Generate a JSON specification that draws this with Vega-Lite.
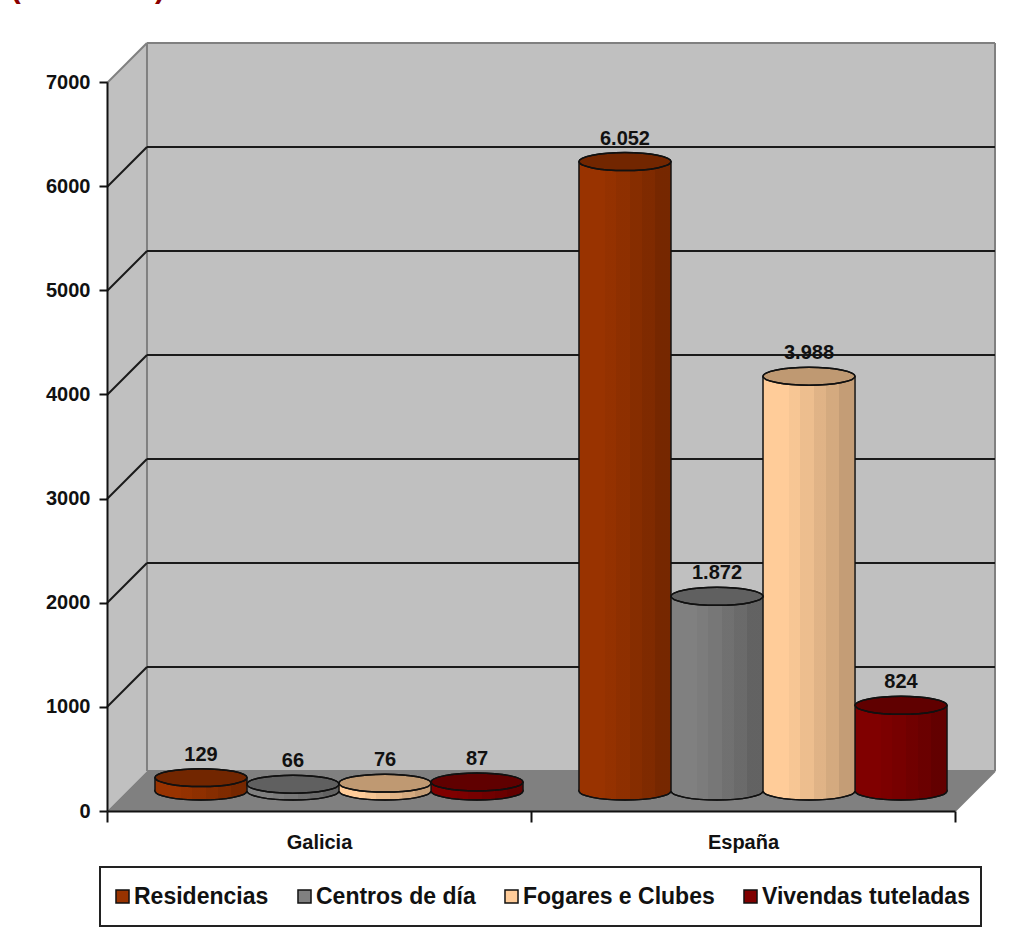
{
  "$schema": "https://vega.github.io/schema/vega-lite/v6.json",
  "width": 888,
  "height": 768,
  "autosize": {"type": "none"},
  "padding": {"left": 107, "top": 43, "right": 18, "bottom": 127},
  "background": "white",
  "config": {
    "view": {"stroke": null},
    "font": "Liberation Sans",
    "legend": {"strokeWidth": 2}
  },
  "datasets": {
    "centros": [
      {"ambito": "Galicia", "tipo": "Residencias", "valor": 129, "etiqueta": "129"},
      {"ambito": "Galicia", "tipo": "Centros de día", "valor": 66, "etiqueta": "66"},
      {"ambito": "Galicia", "tipo": "Fogares e Clubes", "valor": 76, "etiqueta": "76"},
      {"ambito": "Galicia", "tipo": "Vivendas tuteladas", "valor": 87, "etiqueta": "87"},
      {"ambito": "España", "tipo": "Residencias", "valor": 6052, "etiqueta": "6.052"},
      {"ambito": "España", "tipo": "Centros de día", "valor": 1872, "etiqueta": "1.872"},
      {"ambito": "España", "tipo": "Fogares e Clubes", "valor": 3988, "etiqueta": "3.988"},
      {"ambito": "España", "tipo": "Vivendas tuteladas", "valor": 824, "etiqueta": "824"}
    ],
    "paredeLateral": [
      {"x": 0, "y": 0, "y2": 7000},
      {"x": 0.0943, "y": 384, "y2": 7384}
    ],
    "chan": [
      {"x": 0, "y": 0, "y2": 0},
      {"x": 0.0943, "y": 0, "y2": 384},
      {"x": 2, "y": 0, "y2": 384},
      {"x": 2.0943, "y": 384, "y2": 384}
    ],
    "fondo": [{"x": 0.0943, "x2": 2.0943, "y": 384, "y2": 7384}],
    "bordos": [
      {"x": 0, "x2": 0.0943, "y": 7000, "y2": 7384},
      {"x": 0.0943, "x2": 2.0943, "y": 7384, "y2": 7384},
      {"x": 0.0943, "x2": 0.0943, "y": 384, "y2": 7384},
      {"x": 2.0943, "x2": 2.0943, "y": 384, "y2": 7384},
      {"x": 0.0943, "x2": 2.0943, "y": 384, "y2": 384},
      {"x": 2, "x2": 2.0943, "y": 0, "y2": 384}
    ],
    "grella": [
      {"x": 0, "x2": 0.0943, "y": 1000, "y2": 1384},
      {"x": 0, "x2": 0.0943, "y": 2000, "y2": 2384},
      {"x": 0, "x2": 0.0943, "y": 3000, "y2": 3384},
      {"x": 0, "x2": 0.0943, "y": 4000, "y2": 4384},
      {"x": 0, "x2": 0.0943, "y": 5000, "y2": 5384},
      {"x": 0, "x2": 0.0943, "y": 6000, "y2": 6384},
      {"x": 0.0943, "x2": 2.0943, "y": 1384, "y2": 1384},
      {"x": 0.0943, "x2": 2.0943, "y": 2384, "y2": 2384},
      {"x": 0.0943, "x2": 2.0943, "y": 3384, "y2": 3384},
      {"x": 0.0943, "x2": 2.0943, "y": 4384, "y2": 4384},
      {"x": 0.0943, "x2": 2.0943, "y": 5384, "y2": 5384},
      {"x": 0.0943, "x2": 2.0943, "y": 6384, "y2": 6384}
    ],
    "titulo": [
      {"x": -0.215, "y": 7900, "t": "("},
      {"x": 0.125, "y": 7900, "t": ")"}
    ]
  },
  "resolve": {"scale": {"x": "independent", "y": "independent"}, "axis": {"x": "independent", "y": "independent"}},
  "layer": [
    {
      "data": {"name": "titulo"},
      "mark": {"type": "text", "fontSize": 30, "fontWeight": "bold", "color": "#8b0000", "baseline": "middle"},
      "encoding": {
        "x": {"field": "x", "type": "quantitative", "axis": null, "scale": {"domain": [0, 2.0943], "nice": false, "zero": false}},
        "y": {"field": "y", "type": "quantitative", "axis": null, "scale": {"domain": [0, 7384], "nice": false}},
        "text": {"field": "t"}
      }
    },
    {
      "data": {"name": "fondo"},
      "mark": {"type": "rect", "fill": "#c0c0c0"},
      "encoding": {
        "x": {"field": "x", "type": "quantitative", "axis": null, "scale": {"domain": [0, 2.0943], "nice": false, "zero": false}},
        "x2": {"field": "x2"},
        "y": {"field": "y", "type": "quantitative", "axis": null, "scale": {"domain": [0, 7384], "nice": false}},
        "y2": {"field": "y2"}
      }
    },
    {
      "data": {"name": "paredeLateral"},
      "mark": {"type": "area", "fill": "#c0c0c0"},
      "encoding": {
        "x": {"field": "x", "type": "quantitative", "axis": null, "scale": {"domain": [0, 2.0943], "nice": false, "zero": false}},
        "y": {"field": "y", "type": "quantitative", "axis": null, "scale": {"domain": [0, 7384], "nice": false}},
        "y2": {"field": "y2"}
      }
    },
    {
      "data": {"name": "chan"},
      "mark": {"type": "area", "fill": "#808080"},
      "encoding": {
        "x": {"field": "x", "type": "quantitative", "axis": null, "scale": {"domain": [0, 2.0943], "nice": false, "zero": false}},
        "y": {"field": "y", "type": "quantitative", "axis": null, "scale": {"domain": [0, 7384], "nice": false}},
        "y2": {"field": "y2"}
      }
    },
    {
      "data": {"name": "bordos"},
      "mark": {"type": "rule", "stroke": "#808080", "strokeWidth": 2},
      "encoding": {
        "x": {"field": "x", "type": "quantitative", "axis": null, "scale": {"domain": [0, 2.0943], "nice": false, "zero": false}},
        "x2": {"field": "x2"},
        "y": {"field": "y", "type": "quantitative", "axis": null, "scale": {"domain": [0, 7384], "nice": false}},
        "y2": {"field": "y2"}
      }
    },
    {
      "data": {"name": "grella"},
      "mark": {"type": "rule", "stroke": "#1a1a1a", "strokeWidth": 2},
      "encoding": {
        "x": {"field": "x", "type": "quantitative", "axis": null, "scale": {"domain": [0, 2.0943], "nice": false, "zero": false}},
        "x2": {"field": "x2"},
        "y": {"field": "y", "type": "quantitative", "axis": null, "scale": {"domain": [0, 7384], "nice": false}},
        "y2": {"field": "y2"}
      }
    },
    {
      "data": {"name": "centros"},
      "mark": {"type": "point", "opacity": 0},
      "encoding": {
        "x": {
          "field": "ambito", "type": "nominal", "title": null,
          "scale": {"domain": ["Galicia", "España"], "range": [0, 848], "paddingInner": 0, "paddingOuter": 0},
          "axis": {"orient": "bottom", "bandPosition": 0, "tickBand": "extent", "labelAngle": 0, "domainColor": "#111111", "domainWidth": 2, "tickColor": "#111111", "tickWidth": 2, "tickSize": 11, "labelFont": "Liberation Sans", "labelFontWeight": "bold", "labelFontSize": 20, "labelColor": "#111111", "labelPadding": 10, "zindex": 1}
        },
        "y": {
          "field": "valor", "type": "quantitative", "title": null,
          "scale": {"domain": [0, 7000], "range": [768, 39], "nice": false},
          "axis": {"orient": "left", "values": [0, 1000, 2000, 3000, 4000, 5000, 6000, 7000], "format": "d", "grid": false, "domainColor": "#111111", "domainWidth": 2, "tickColor": "#111111", "tickWidth": 2, "tickSize": 8, "labelFont": "Liberation Sans", "labelFontWeight": "bold", "labelFontSize": 20, "labelColor": "#111111", "labelPadding": 9, "zindex": 1}
        }
      }
    },
    {
      "data": {"name": "centros"},
      "mark": {"type": "point", "filled": true, "opacity": 1, "size": 8464, "stroke": "#111111", "strokeWidth": 1.5, "shape": "M-1,0C-1,-.1077,-.5523,-.195,0,-.195C.5523,-.195,1,-.1077,1,0C1,.1077,.5523,.195,0,.195C-.5523,.195,-1,.1077,-1,0Z"},
      "encoding": {
        "x": {"field": "ambito", "type": "nominal", "axis": null, "scale": {"domain": ["Galicia", "España"], "range": [20, 868], "paddingInner": 0, "paddingOuter": 0}},
        "xOffset": {"field": "tipo", "scale": {"domain": ["Residencias", "Centros de día", "Fogares e Clubes", "Vivendas tuteladas"], "paddingInner": 0, "paddingOuter": 0.304}},
        "y": {"datum": 0, "type": "quantitative", "axis": null, "scale": {"domain": [-192, 7192], "nice": false, "zero": false}},
        "color": {
          "field": "tipo", "type": "nominal",
          "scale": {"domain": ["Residencias", "Centros de día", "Fogares e Clubes", "Vivendas tuteladas"], "range": ["#993300", "#808080", "#ffcc99", "#800000"]},
          "legend": {"title": null, "orient": "none", "legendX": -7, "legendY": 824, "direction": "horizontal", "columns": 4, "columnPadding": 24, "padding": 11, "clipHeight": 37, "labelLimit": 400, "strokeColor": "#222222", "fillColor": "#ffffff", "symbolType": "square", "symbolSize": 170, "symbolStrokeColor": "#111111", "symbolStrokeWidth": 1.5, "labelFont": "Liberation Sans", "labelFontWeight": "bold", "labelFontSize": 23, "labelColor": "#111111", "labelOffset": 0}
        }
      }
    },
    {
      "data": {"name": "centros"},
      "mark": {
        "type": "point", "filled": true, "opacity": 1, "size": 8464, "stroke": "#111111", "strokeWidth": 1.5,
        "shape": "M-1,0C-1,-.1077,-.5523,-.195,0,-.195C.5523,-.195,1,-.1077,1,0C1,.1077,.5523,.195,0,.195C-.5523,.195,-1,.1077,-1,0Z",
        "fill": {
          "gradient": "linear", "x1": 0, "x2": 1, "y1": 0, "y2": 0,
          "stops": [
            {"offset": 0, "color": "rgba(0,0,0,0)"},
            {"offset": 0.28, "color": "rgba(0,0,0,0)"},
            {"offset": 0.28, "color": "rgba(0,0,0,0.03)"},
            {"offset": 0.4, "color": "rgba(0,0,0,0.03)"},
            {"offset": 0.4, "color": "rgba(0,0,0,0.07)"},
            {"offset": 0.55, "color": "rgba(0,0,0,0.07)"},
            {"offset": 0.55, "color": "rgba(0,0,0,0.12)"},
            {"offset": 0.69, "color": "rgba(0,0,0,0.12)"},
            {"offset": 0.69, "color": "rgba(0,0,0,0.17)"},
            {"offset": 0.83, "color": "rgba(0,0,0,0.17)"},
            {"offset": 0.83, "color": "rgba(0,0,0,0.23)"},
            {"offset": 1, "color": "rgba(0,0,0,0.23)"}
          ]
        }
      },
      "encoding": {
        "x": {"field": "ambito", "type": "nominal", "axis": null, "scale": {"domain": ["Galicia", "España"], "range": [20, 868], "paddingInner": 0, "paddingOuter": 0}},
        "xOffset": {"field": "tipo", "scale": {"domain": ["Residencias", "Centros de día", "Fogares e Clubes", "Vivendas tuteladas"], "paddingInner": 0, "paddingOuter": 0.304}},
        "y": {"datum": 0, "type": "quantitative", "axis": null, "scale": {"domain": [-192, 7192], "nice": false, "zero": false}}
      }
    },
    {
      "data": {"name": "centros"},
      "mark": {"type": "bar", "size": 93.5, "fill": "#111111"},
      "encoding": {
        "x": {"field": "ambito", "type": "nominal", "axis": null, "scale": {"domain": ["Galicia", "España"], "range": [20, 868], "paddingInner": 0, "paddingOuter": 0}},
        "xOffset": {"field": "tipo", "scale": {"domain": ["Residencias", "Centros de día", "Fogares e Clubes", "Vivendas tuteladas"], "paddingInner": 0, "paddingOuter": 0.304}},
        "y": {"field": "valor", "type": "quantitative", "stack": null, "axis": null, "scale": {"domain": [-192, 7192], "nice": false, "zero": false}}
      }
    },
    {
      "data": {"name": "centros"},
      "mark": {"type": "bar", "size": 90.5},
      "encoding": {
        "x": {"field": "ambito", "type": "nominal", "axis": null, "scale": {"domain": ["Galicia", "España"], "range": [20, 868], "paddingInner": 0, "paddingOuter": 0}},
        "xOffset": {"field": "tipo", "scale": {"domain": ["Residencias", "Centros de día", "Fogares e Clubes", "Vivendas tuteladas"], "paddingInner": 0, "paddingOuter": 0.304}},
        "y": {"field": "valor", "type": "quantitative", "stack": null, "axis": null, "scale": {"domain": [-192, 7192], "nice": false, "zero": false}},
        "color": {"field": "tipo", "type": "nominal", "legend": null, "scale": {"domain": ["Residencias", "Centros de día", "Fogares e Clubes", "Vivendas tuteladas"], "range": ["#993300", "#808080", "#ffcc99", "#800000"]}}
      }
    },
    {
      "data": {"name": "centros"},
      "mark": {
        "type": "bar", "size": 90.5,
        "fill": {
          "gradient": "linear", "x1": 0, "x2": 1, "y1": 0, "y2": 0,
          "stops": [
            {"offset": 0, "color": "rgba(0,0,0,0)"},
            {"offset": 0.28, "color": "rgba(0,0,0,0)"},
            {"offset": 0.28, "color": "rgba(0,0,0,0.03)"},
            {"offset": 0.4, "color": "rgba(0,0,0,0.03)"},
            {"offset": 0.4, "color": "rgba(0,0,0,0.07)"},
            {"offset": 0.55, "color": "rgba(0,0,0,0.07)"},
            {"offset": 0.55, "color": "rgba(0,0,0,0.12)"},
            {"offset": 0.69, "color": "rgba(0,0,0,0.12)"},
            {"offset": 0.69, "color": "rgba(0,0,0,0.17)"},
            {"offset": 0.83, "color": "rgba(0,0,0,0.17)"},
            {"offset": 0.83, "color": "rgba(0,0,0,0.23)"},
            {"offset": 1, "color": "rgba(0,0,0,0.23)"}
          ]
        }
      },
      "encoding": {
        "x": {"field": "ambito", "type": "nominal", "axis": null, "scale": {"domain": ["Galicia", "España"], "range": [20, 868], "paddingInner": 0, "paddingOuter": 0}},
        "xOffset": {"field": "tipo", "scale": {"domain": ["Residencias", "Centros de día", "Fogares e Clubes", "Vivendas tuteladas"], "paddingInner": 0, "paddingOuter": 0.304}},
        "y": {"field": "valor", "type": "quantitative", "stack": null, "axis": null, "scale": {"domain": [-192, 7192], "nice": false, "zero": false}}
      }
    },
    {
      "data": {"name": "centros"},
      "mark": {"type": "point", "filled": true, "opacity": 1, "size": 8464, "stroke": "#111111", "strokeWidth": 1.5, "shape": "M-1,0C-1,-.1077,-.5523,-.195,0,-.195C.5523,-.195,1,-.1077,1,0C1,.1077,.5523,.195,0,.195C-.5523,.195,-1,.1077,-1,0Z"},
      "encoding": {
        "x": {"field": "ambito", "type": "nominal", "axis": null, "scale": {"domain": ["Galicia", "España"], "range": [20, 868], "paddingInner": 0, "paddingOuter": 0}},
        "xOffset": {"field": "tipo", "scale": {"domain": ["Residencias", "Centros de día", "Fogares e Clubes", "Vivendas tuteladas"], "paddingInner": 0, "paddingOuter": 0.304}},
        "y": {"field": "valor", "type": "quantitative", "axis": null, "scale": {"domain": [-192, 7192], "nice": false, "zero": false}},
        "color": {"field": "tipo", "type": "nominal", "legend": null, "scale": {"domain": ["Residencias", "Centros de día", "Fogares e Clubes", "Vivendas tuteladas"], "range": ["#993300", "#808080", "#ffcc99", "#800000"]}}
      }
    },
    {
      "data": {"name": "centros"},
      "mark": {"type": "point", "filled": true, "opacity": 1, "fill": "rgba(0,0,0,0.25)", "size": 8464, "stroke": "#111111", "strokeWidth": 1.5, "shape": "M-1,0C-1,-.1077,-.5523,-.195,0,-.195C.5523,-.195,1,-.1077,1,0C1,.1077,.5523,.195,0,.195C-.5523,.195,-1,.1077,-1,0Z"},
      "encoding": {
        "x": {"field": "ambito", "type": "nominal", "axis": null, "scale": {"domain": ["Galicia", "España"], "range": [20, 868], "paddingInner": 0, "paddingOuter": 0}},
        "xOffset": {"field": "tipo", "scale": {"domain": ["Residencias", "Centros de día", "Fogares e Clubes", "Vivendas tuteladas"], "paddingInner": 0, "paddingOuter": 0.304}},
        "y": {"field": "valor", "type": "quantitative", "axis": null, "scale": {"domain": [-192, 7192], "nice": false, "zero": false}}
      }
    },
    {
      "data": {"name": "centros"},
      "mark": {"type": "text", "dy": -23, "fontSize": 20, "fontWeight": "bold", "color": "#111111", "baseline": "middle"},
      "encoding": {
        "x": {"field": "ambito", "type": "nominal", "axis": null, "scale": {"domain": ["Galicia", "España"], "range": [20, 868], "paddingInner": 0, "paddingOuter": 0}},
        "xOffset": {"field": "tipo", "scale": {"domain": ["Residencias", "Centros de día", "Fogares e Clubes", "Vivendas tuteladas"], "paddingInner": 0, "paddingOuter": 0.304}},
        "y": {"field": "valor", "type": "quantitative", "axis": null, "scale": {"domain": [-192, 7192], "nice": false, "zero": false}},
        "text": {"field": "etiqueta"}
      }
    }
  ]
}
